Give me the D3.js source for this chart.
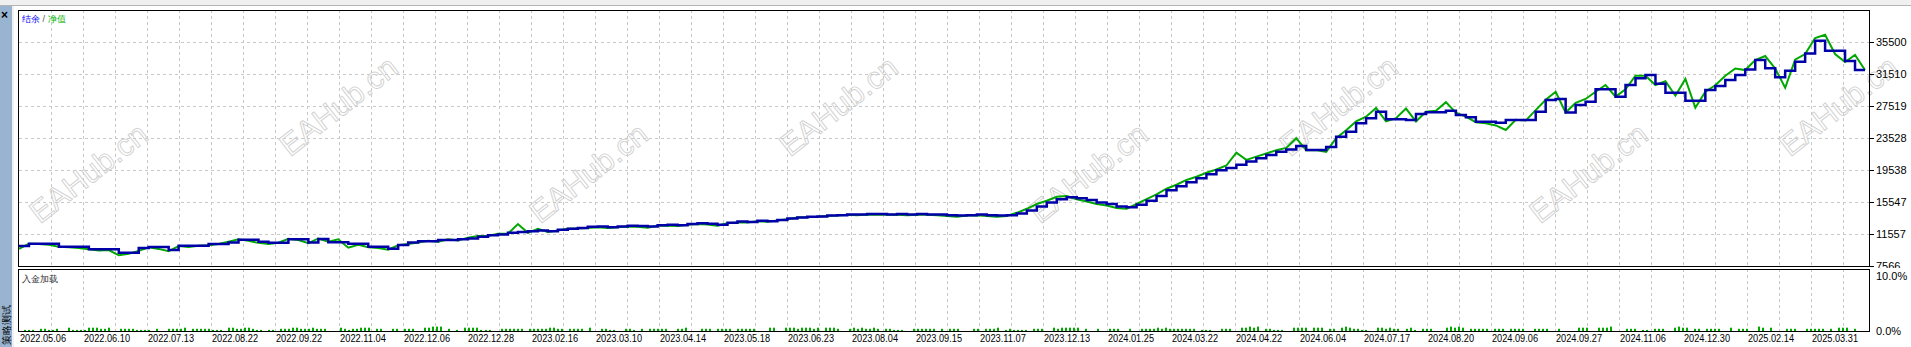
<!DOCTYPE html>
<html>
<head>
<meta charset="utf-8">
<script src="https://cdn.jsdelivr.net/npm/d3@7"></script>
<style>
  body { margin: 0; background: #fff; overflow: hidden; }
  svg text { font-family: "Liberation Sans", Arial, sans-serif; }
</style>
</head>
<body>
<svg id="chart" width="1911" height="347"></svg>
<script>
// ---- data ----
const yTicks = [7566, 11557, 15547, 19538, 23528, 27519, 31510, 35500];
const yTop = 39491;

const dateLabels = [
  "2022.05.06", "2022.06.10", "2022.07.13", "2022.08.22", "2022.09.22", "2022.11.04",
  "2022.12.06", "2022.12.28", "2023.02.16", "2023.03.10", "2023.04.14", "2023.05.18",
  "2023.06.23", "2023.08.04", "2023.09.15", "2023.11.07", "2023.12.13", "2024.01.25",
  "2024.03.22", "2024.04.22", "2024.06.04", "2024.07.17", "2024.08.20", "2024.09.06",
  "2024.09.27", "2024.11.06", "2024.12.30", "2025.02.14", "2025.03.31"
];

// balance (结余), one value per sample of the trade axis
const balance = [
  10050, 10345, 10345, 10345, 9975, 9975, 9975, 9650, 9650, 9650,
  9225, 9225, 9800, 9935, 9935, 9560, 10100, 10100, 10100, 10310,
  10310, 10500, 10845, 10845, 10596, 10470, 10470, 10890, 10890, 10500,
  10933, 10520, 10520, 10345, 10345, 9975, 9975, 9725, 10190,
  10500, 10640, 10640, 10800, 10800, 10900, 11000, 11200, 11400, 11500,
  11700, 11800, 11900, 12000, 11900, 12100, 12200, 12300, 12450, 12500,
  12400, 12500, 12600, 12550, 12500, 12650, 12700, 12650, 12800, 12900,
  12850, 12700, 12950, 13100, 13050, 13200, 13150, 13300, 13500, 13600,
  13700, 13750, 13850, 13900, 14000, 14000, 14050, 14050, 14000, 14050,
  14000, 14050, 14000, 14000, 13900, 13850, 13900, 14000, 13900, 13850,
  13900, 14100, 14500, 15000, 15500, 15900, 16150, 16000, 15800, 15500,
  15300, 15000, 14900, 15200, 15700, 16300, 17000, 17500, 18000, 18500,
  19000, 19500, 19800, 20200, 20600, 21000, 21400, 21800, 22100, 22530,
  22030, 22030, 22400, 23700, 24310, 25360, 25980, 26810, 25860, 25860,
  25770, 26520, 26730, 26730, 26930, 26400, 26110, 25560, 25560, 25440,
  25770, 25770, 25770, 26810, 28270, 28390, 26700, 27640, 28060, 29600,
  29600, 28680, 30140, 30970, 31380, 30300, 29180, 29180, 28180, 28180,
  29510, 30000, 30760, 31380, 32060, 33250, 32220, 31100, 31920, 33040,
  34080, 35660, 34410, 34410, 33130, 32010, 32010
];

// equity (净值), same samples
const equity = [
  9700, 10345, 10300, 10200, 9975, 9900, 9800, 9650, 9500, 9550,
  8900, 9100, 9450, 9900, 9700, 9400, 10050, 9950, 10100, 10150,
  10310, 10600, 10900, 10700, 10450, 10300, 10470, 10950, 10800, 10400,
  11000, 10600, 10900, 9850, 10200, 9900, 9800, 9600, 10150,
  10300, 10500, 10700, 10600, 10900, 10750, 11100, 11300, 11300, 11600,
  11600, 12800, 11700, 12200, 11800, 12000, 12200, 12250, 12300, 12400,
  12300, 12400, 12500, 12450, 12350, 12600, 12600, 12550, 12700, 12800,
  12750, 12600, 12900, 13000, 13000, 13150, 13100, 13250, 13400, 13600,
  13650, 13700, 13800, 13850, 13950, 13900, 14000, 13950, 13950, 13950,
  13900, 13950, 13950, 13900, 13800, 13700, 13850, 13900, 13800, 13700,
  13800, 14200, 14700, 15300, 15700, 16200, 16300, 15900, 15600, 15300,
  15100, 14800, 14700, 15300, 15900, 16500, 17200, 17700, 18300, 18700,
  19200, 19600, 20100, 21700, 20800, 21200, 21600, 22000, 22300, 23500,
  22000, 22030, 21800, 23500, 24500, 25600, 26180, 27270, 25600, 26000,
  27200, 25600, 26800, 26930, 28000, 26700, 26200, 25500, 25360, 25100,
  24525, 25800, 25700, 27000, 28300, 29300, 26700, 27900, 28400, 29300,
  30140, 28700, 29600, 31300, 31300, 30140, 30600, 28800, 30900, 27300,
  29300, 30100, 31300, 32200, 32000, 33250, 33750, 32200, 29800, 33300,
  34000, 35990, 36400, 34000, 33000, 33880, 32010
];

// deposit load (入金加载), % per bar
const loadPct = [
  0,.2,.2,.2,0,.4,.4,.2,.2,.4,0,0,.6,.2,.2,.2,.2,.6,.6,.6,.4,.4,.6,0,0,.4,.4,.4,.4,.2,.2,.2,
  .2,0,.4,0,0,.4,.4,.4,.4,.6,0,.4,.4,.4,.4,.4,.2,.2,.2,0,.6,.6,.4,.4,.6,.6,.4,.2,.2,0,.2,.2,
  0,.4,.4,.4,.6,.6,.4,.4,.4,.6,.4,.4,.4,0,0,0,.6,.4,.2,.4,.4,.6,.6,.6,0,.4,.4,0,0,.4,.4,0,
  .4,.4,.4,0,0,.6,.6,.8,.8,.8,0,.4,0,.2,0,.6,.6,.6,.6,.2,.2,.2,0,0,.4,.4,.4,.4,.4,.4,0,.4,
  .4,.4,.4,.4,.6,.6,.4,.4,0,.4,.4,.4,.4,0,.6,0,0,.4,.4,.2,.2,0,0,.4,.4,.2,0,.4,0,.4,.4,.4,
  .4,.4,0,0,.4,.4,.6,0,0,0,.4,.4,.4,0,.4,.4,.4,.4,0,.4,.4,.4,.4,.4,0,0,0,.6,.6,0,0,.6,
  .6,.6,.4,.6,.6,.6,.4,.6,0,.6,.6,.6,.4,0,0,.4,.6,.4,.6,.4,.4,.6,.4,0,.4,.4,.2,.2,.2,0,0,.4,
  .4,.4,.4,.4,.4,0,.4,0,.4,.4,.4,0,0,0,.4,.4,0,.4,.4,.4,.6,0,.2,.4,.2,.2,.2,.2,0,.4,.4,.4,
  0,0,.6,.4,.6,.6,.6,.6,.6,0,.4,0,0,.4,0,0,.4,.4,.4,0,0,.4,0,0,.4,.4,.4,.4,.6,.4,.6,.4,
  .4,.4,.4,.4,.4,.4,0,.2,.2,.2,0,0,.4,.4,.4,0,0,.6,.6,.8,.6,.8,0,.4,.4,.2,.2,.2,0,0,.6,.6,
  .6,.6,0,.6,.6,.6,0,.4,.4,0,.6,.8,.6,.4,.4,.2,.2,0,0,.6,.6,.4,.6,.4,.4,0,.4,.6,.2,0,.4,.4,
  .4,0,0,0,.6,.8,.6,.8,.6,0,.4,.4,.4,.4,.4,0,.4,.4,.4,0,.4,.4,.4,.4,0,0,.4,.4,.4,.4,0,0,
  .4,0,0,0,0,.6,.6,.6,0,0,.6,.6,.6,.8,0,0,0,.4,.4,.4,0,.2,.2,0,.4,.4,.4,0,0,.6,.8,.6,
  .6,0,.4,.4,0,.4,.4,.4,.4,0,0,.6,0,.4,.4,.4,0,0,.8,.6,0,.6,0,0,0,.4,.4,.4,0,0,.4,.4,
  .4,.4,.4,0,.4,0,.6,.6,.6,0,.4,0,0
];

// ---- layout ----
const W = 1911, H = 347;
const plotL = 19, plotR = 1870, dataR = 1865;
const mainT = 10, mainB = 266;
const lowT = 269, lowB = 331;
const gridStep = 32;   // px between dashed grid lines
const labelStep = 64;  // px between date labels

const svg = d3.select("#chart");

// window chrome
svg.append("rect").attr("width", W).attr("height", H).attr("fill", "#fff");
svg.append("rect").attr("width", W).attr("height", 5).attr("fill", "#f0f0f0");
svg.append("line").attr("x1", 0).attr("x2", W).attr("y1", 5.5).attr("y2", 5.5).attr("stroke", "#b4b4b4");
svg.append("rect").attr("x", 0).attr("y", 6).attr("width", 12).attr("height", H - 6).attr("fill", "#99b4d1");
svg.append("rect").attr("x", 12).attr("y", 6).attr("width", 2).attr("height", H - 6).attr("fill", "#f0f0f0");
svg.append("text").attr("x", 1).attr("y", 19).attr("font-size", 12).attr("font-weight", "bold").text("×");
svg.append("text")
    .attr("transform", `translate(10, ${H - 2}) rotate(-90)`)
    .attr("font-family", "Noto Sans CJK SC")
    .attr("font-size", 10)
    .attr("fill", "#000")
    .text("策略测试");

// scales
const x = d3.scaleLinear().domain([0, balance.length - 1]).range([plotL, dataR]);
const y = d3.scaleLinear().domain([yTicks[0], yTop]).range([mainB, mainT]);
const xLoad = d3.scaleLinear().domain([0, loadPct.length]).range([plotL, dataR]);
const yLoad = d3.scaleLinear().domain([0, 10]).range([lowB, 276]);
const xDate = d3.scaleLinear().domain([0, 1]).range([plotL, plotL + labelStep]);

// grid
const vGrid = d3.range(plotL + gridStep, plotR, gridStep);
const grid = svg.append("g").attr("stroke", "#c8c8c8").attr("stroke-dasharray", "3,3");
grid.selectAll(".vm").data(vGrid).join("line")
    .attr("x1", d => d + 0.5).attr("x2", d => d + 0.5)
    .attr("y1", mainT).attr("y2", mainB);
grid.selectAll(".vl").data(vGrid).join("line")
    .attr("x1", d => d + 0.5).attr("x2", d => d + 0.5)
    .attr("y1", lowT).attr("y2", lowB);
grid.selectAll(".h").data(yTicks.slice(1)).join("line")
    .attr("x1", plotL).attr("x2", plotR)
    .attr("y1", d => Math.round(y(d)) + 0.5).attr("y2", d => Math.round(y(d)) + 0.5);

// watermark
const wm = svg.append("g").attr("fill", "none").attr("stroke", "#d0d0d0").attr("stroke-width", 0.9);
d3.range(8).forEach(k => {
  wm.append("text")
    .attr("transform", `translate(${90 + 250 * k}, ${k % 2 ? 108 : 175}) rotate(-38)`)
    .attr("text-anchor", "middle")
    .attr("font-size", 31)
    .attr("dominant-baseline", "middle")
    .text("EAHub.cn");
});

// lines
svg.append("path")
    .datum(equity)
    .attr("fill", "none")
    .attr("stroke", "#00a800")
    .attr("stroke-width", 2)
    .attr("d", d3.line().x((d, i) => x(i)).y(d => y(d)));

svg.append("path")
    .datum(balance)
    .attr("fill", "none")
    .attr("stroke", "#0000a8")
    .attr("stroke-width", 2.5)
    .attr("d", d3.line().curve(d3.curveStepAfter).x((d, i) => x(i)).y(d => y(d)));

// deposit load bars
svg.append("g").selectAll("rect")
    .data(loadPct)
    .join("rect")
        .attr("x", (d, i) => Math.round(xLoad(i)) + 1)
        .attr("y", d => yLoad(d))
        .attr("width", 2)
        .attr("height", d => lowB - yLoad(d))
        .attr("fill", "#00a800");

// pane frames
svg.append("rect").attr("x", plotL - 0.5).attr("y", mainT + 0.5)
    .attr("width", plotR - plotL).attr("height", mainB - mainT)
    .attr("fill", "none").attr("stroke", "#000");
svg.append("rect").attr("x", plotL - 0.5).attr("y", lowT + 0.5)
    .attr("width", plotR - plotL).attr("height", lowB - lowT)
    .attr("fill", "none").attr("stroke", "#000");

// right axis (balance), clipped under the lower pane
svg.append("clipPath").attr("id", "clipMain")
    .append("rect").attr("x", plotR).attr("y", 0).attr("width", 60).attr("height", lowT - 1);
const yAxis = svg.append("g").attr("clip-path", "url(#clipMain)");
yAxis.selectAll("line").data(yTicks).join("line")
    .attr("x1", plotR).attr("x2", plotR + 4)
    .attr("y1", d => Math.round(y(d)) + 0.5).attr("y2", d => Math.round(y(d)) + 0.5)
    .attr("stroke", "#000");
yAxis.selectAll("text").data(yTicks).join("text")
    .attr("x", plotR + 6)
    .attr("y", d => y(d) + 4)
    .attr("font-size", 11)
    .text(d => d);

// right axis (load)
svg.selectAll(".pct").data([10, 0]).join("text")
    .attr("x", plotR + 6)
    .attr("y", d => yLoad(d) + 4)
    .attr("font-size", 11)
    .text(d => d.toFixed(1) + "%");

// date labels
svg.selectAll(".date").data(dateLabels).join("text")
    .attr("x", (d, i) => xDate(i) + 1)
    .attr("y", 342)
    .attr("font-size", 10)
    .attr("textLength", 46)
    .attr("lengthAdjust", "spacingAndGlyphs")
    .text(d => d);

// pane captions
const cap = svg.append("text").attr("x", 22).attr("y", 22)
    .attr("font-family", "Noto Sans CJK SC").attr("font-size", 9);
cap.append("tspan").attr("fill", "#0000ff").text("结余");
cap.append("tspan").attr("fill", "#555").text(" / ");
cap.append("tspan").attr("fill", "#00b000").text("净值");

svg.append("text").attr("x", 22).attr("y", 282)
    .attr("font-family", "Noto Sans CJK SC").attr("font-size", 9).attr("fill", "#333")
    .text("入金加载");
</script>
</body>
</html>
